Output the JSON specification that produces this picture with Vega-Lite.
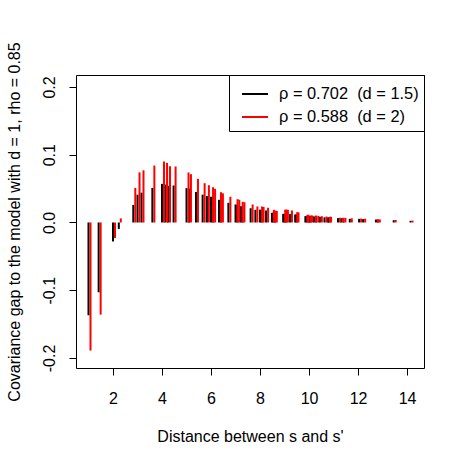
{
  "$schema": "https://vega.github.io/schema/vega-lite/v6.json",
  "width": 348,
  "height": 293,
  "autosize": "none",
  "padding": {"left": 76, "top": 75, "right": 39, "bottom": 95},
  "background": "white",
  "config": {
    "font": "Liberation Sans",
    "view": {"stroke": "black", "strokeWidth": 1},
    "axis": {
      "grid": false, "domain": false, "tickColor": "black", "tickSize": 7, "tickWidth": 1,
      "labelFontSize": 16, "labelColor": "black", "titleFontSize": 16, "titleFontWeight": "normal", "titleColor": "black",
      "labelFont": "Liberation Sans", "titleFont": "Liberation Sans"
    },
    "legend": {
      "orient": "top-right", "offset": 0, "strokeColor": "black", "strokeWidth": 1, "fillColor": "white",
      "padding": 5, "labelFontSize": 16.4, "labelColor": "black", "labelFont": "Liberation Sans",
      "symbolType": "stroke", "symbolSize": 676, "symbolStrokeWidth": 2, "symbolOffset": 7, "labelOffset": 10, "rowPadding": -7, "labelLimit": 400
    }
  },
  "data": {"values": [
    {"d": 1, "b": -0.137, "r": -0.189},
    {"d": 1.414, "b": -0.103, "r": -0.136},
    {"d": 2, "b": -0.028, "r": -0.023},
    {"d": 2.236, "b": -0.0095, "r": 0.006},
    {"d": 2.828, "b": 0.026, "r": 0.051},
    {"d": 3, "b": 0.041, "r": 0.074},
    {"d": 3.162, "b": 0.044, "r": 0.077},
    {"d": 3.606, "b": 0.051, "r": 0.084},
    {"d": 4, "b": 0.057, "r": 0.09},
    {"d": 4.123, "b": 0.056, "r": 0.088},
    {"d": 4.243, "b": 0.054, "r": 0.083},
    {"d": 4.472, "b": 0.0546, "r": 0.0827},
    {"d": 5, "b": 0.0507, "r": 0.0738},
    {"d": 5.099, "b": 0.05, "r": 0.0713},
    {"d": 5.385, "b": 0.045, "r": 0.0645},
    {"d": 5.657, "b": 0.041, "r": 0.058},
    {"d": 5.831, "b": 0.039, "r": 0.055},
    {"d": 6, "b": 0.038, "r": 0.052},
    {"d": 6.083, "b": 0.037, "r": 0.0497},
    {"d": 6.325, "b": 0.0335, "r": 0.0447},
    {"d": 6.403, "b": 0.033, "r": 0.043},
    {"d": 6.708, "b": 0.029, "r": 0.038},
    {"d": 7, "b": 0.0266, "r": 0.0344},
    {"d": 7.071, "b": 0.026, "r": 0.0335},
    {"d": 7.211, "b": 0.024, "r": 0.0305},
    {"d": 7.28, "b": 0.0235, "r": 0.03},
    {"d": 7.616, "b": 0.021, "r": 0.0266},
    {"d": 7.81, "b": 0.0187, "r": 0.0236},
    {"d": 8, "b": 0.019, "r": 0.0236},
    {"d": 8.062, "b": 0.0185, "r": 0.023},
    {"d": 8.246, "b": 0.0177, "r": 0.0217},
    {"d": 8.485, "b": 0.0143, "r": 0.0187},
    {"d": 8.544, "b": 0.0145, "r": 0.0175},
    {"d": 8.602, "b": 0.0145, "r": 0.017},
    {"d": 8.944, "b": 0.0128, "r": 0.019},
    {"d": 9, "b": 0.0128, "r": 0.019},
    {"d": 9.055, "b": 0.0128, "r": 0.0185},
    {"d": 9.22, "b": 0.0123, "r": 0.0177},
    {"d": 9.434, "b": 0.0118, "r": 0.0152},
    {"d": 9.487, "b": 0.0118, "r": 0.015},
    {"d": 9.849, "b": 0.0093, "r": 0.0113},
    {"d": 9.899, "b": 0.0093, "r": 0.0113},
    {"d": 10, "b": 0.0095, "r": 0.0103},
    {"d": 10.05, "b": 0.0095, "r": 0.0103},
    {"d": 10.198, "b": 0.009, "r": 0.0103},
    {"d": 10.296, "b": 0.0088, "r": 0.0098},
    {"d": 10.44, "b": 0.0084, "r": 0.0093},
    {"d": 10.63, "b": 0.0076, "r": 0.0088},
    {"d": 10.77, "b": 0.0074, "r": 0.0085},
    {"d": 10.817, "b": 0.0072, "r": 0.0083},
    {"d": 11.18, "b": 0.0064, "r": 0.007},
    {"d": 11.314, "b": 0.0062, "r": 0.007},
    {"d": 11.402, "b": 0.006, "r": 0.0068},
    {"d": 11.662, "b": 0.0054, "r": 0.0062},
    {"d": 12.042, "b": 0.0054, "r": 0.0058},
    {"d": 12.207, "b": 0.005, "r": 0.0055},
    {"d": 12.728, "b": 0.0044, "r": 0.0046},
    {"d": 12.806, "b": 0.0043, "r": 0.0045},
    {"d": 13.454, "b": 0.0034, "r": 0.0036},
    {"d": 14.142, "b": 0.0025, "r": 0.0027}
  ]},
  "layer": [
    {
      "mark": {"type": "rule", "strokeWidth": 2},
      "encoding": {
        "x": {"field": "d", "type": "quantitative", "scale": {"domain": [0.49, 14.69], "nice": false, "zero": false},
              "axis": {"values": [2, 4, 6, 8, 10, 12, 14], "format": "d", "labelPadding": 15, "title": "Distance between s and s'", "titlePadding": 22}},
        "y": {"field": "b", "type": "quantitative", "scale": {"domain": [-0.2148, 0.2177], "nice": false, "zero": false},
              "axis": {"values": [-0.2, -0.1, 0, 0.1, 0.2], "labelExpr": "datum.value < 0 ? '-' + format(-datum.value, '.1f') : format(datum.value, '.1f')",
                       "labelAngle": 270, "labelAlign": "center", "labelBaseline": "alphabetic", "labelPadding": 15,
                       "title": "Covariance gap to the model with d = 1, rho = 0.85", "titlePadding": 19}},
        "y2": {"datum": 0},
        "color": {"datum": "ρ = 0.702 \u00a0(d = 1.5)", "type": "nominal",
                  "scale": {"domain": ["ρ = 0.702 \u00a0(d = 1.5)", "ρ = 0.588 \u00a0(d = 2)"], "range": ["black", "red"]},
                  "legend": {"title": null}}
      }
    },
    {
      "mark": {"type": "rule", "strokeWidth": 2, "xOffset": 2},
      "encoding": {
        "x": {"field": "d", "type": "quantitative"},
        "y": {"field": "r", "type": "quantitative"},
        "y2": {"datum": 0},
        "color": {"datum": "ρ = 0.588 \u00a0(d = 2)", "type": "nominal"}
      }
    }
  ]
}
